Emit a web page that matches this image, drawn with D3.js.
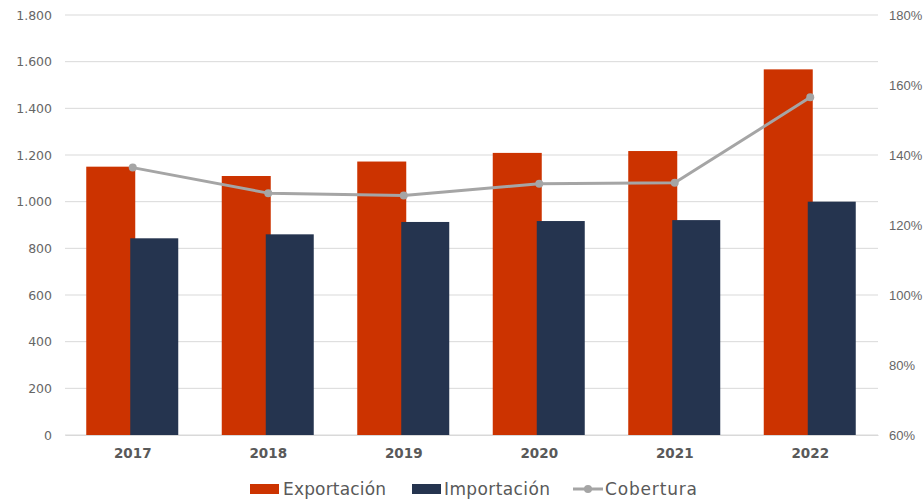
<!DOCTYPE html>
<html><head><meta charset="utf-8">
<script src="https://cdn.jsdelivr.net/npm/d3@7/dist/d3.min.js"></script>
<style>body{margin:0;background:#fff}svg{display:block}</style>
</head><body><svg id="c" width="923" height="501"></svg>
<script>
const years = ["2017","2018","2019","2020","2021","2022"];
const exportacion = [1150, 1110, 1172, 1209, 1217, 1567];
const importacion = [843, 860, 913, 917, 921, 1000];
const cobertura = [1.364, 1.291, 1.284, 1.318, 1.321, 1.565];
const leftTicks = [0,200,400,600,800,1000,1200,1400,1600,1800];
const rightTicks = [0.6,0.8,1.0,1.2,1.4,1.6,1.8];
const seriesNames = ["Exportación","Importación","Cobertura"];

const svg = d3.select("#c");
const L = 65, R = 878, T = 15, B = 435;
const x = d3.scaleBand().domain(years).range([L, R]).paddingInner(0).paddingOuter(0);
const y = d3.scaleLinear().domain([0,1800]).range([B, T]);
const y2 = d3.scaleLinear().domain([0.6,1.8]).range([B, T]);
const fmt = d3.formatLocale({decimal:",", thousands:".", grouping:[3], currency:["",""]}).format(",.0f");

// grid
svg.append("g").selectAll("line").data(leftTicks).join("line")
  .attr("x1", L).attr("x2", R).attr("y1", d=>y(d)).attr("y2", d=>y(d))
  .attr("stroke", "#d9d9d9").attr("stroke-width", 1);

// left axis
const la = svg.append("g").attr("transform", `translate(${L},0)`)
  .call(d3.axisLeft(y).tickValues(leftTicks).tickFormat(fmt).tickSize(0).tickPadding(13));
la.select(".domain").remove();
la.selectAll("text").attr("font-family","'DejaVu Sans', sans-serif").attr("font-size","12.5px").attr("fill","#666666");

// right axis
const ra = svg.append("g").attr("transform", `translate(${R},0)`)
  .call(d3.axisRight(y2).tickValues(rightTicks).tickFormat(d3.format(".0%")).tickSize(0).tickPadding(11));
ra.select(".domain").remove();
ra.selectAll("text").attr("font-family","'Liberation Sans', Arial, sans-serif").attr("font-size","13px").attr("fill","#666666");

// bars
const bw = 49, ov = 5;
const cx = d => x(d) + x.bandwidth()/2;
const gW = 2*bw - ov;
svg.append("g").selectAll("rect").data(years).join("rect")
  .attr("x", (d)=>cx(d) - gW/2).attr("width", bw)
  .attr("y", (d,i)=>y(exportacion[i])).attr("height", (d,i)=>B - y(exportacion[i]))
  .attr("fill", "#cc3300");
svg.append("g").selectAll("rect").data(years).join("rect")
  .attr("x", (d)=>cx(d) - gW/2 + bw - ov).attr("width", bw - 1)
  .attr("y", (d,i)=>y(importacion[i])).attr("height", (d,i)=>B - y(importacion[i]))
  .attr("fill", "#25344f");

// line
const line = d3.line().x((d,i)=>cx(years[i])).y(d=>y2(d));
svg.append("path").datum(cobertura).attr("d", line)
  .attr("fill","none").attr("stroke","#a5a5a5").attr("stroke-width",3).attr("stroke-linejoin","round");
svg.append("g").selectAll("circle").data(cobertura).join("circle")
  .attr("cx",(d,i)=>cx(years[i])).attr("cy", d=>y2(d)).attr("r",4).attr("fill","#a5a5a5");

// x labels
const xa = svg.append("g").attr("transform", `translate(0,${B})`)
  .call(d3.axisBottom(x).tickSize(0).tickPadding(13));
xa.select(".domain").attr("stroke","#d9d9d9");
xa.selectAll("text").attr("font-family","'DejaVu Sans', sans-serif").attr("font-size","13.5px")
  .attr("font-weight","bold").attr("fill","#595959");

// legend
const lg = svg.append("g").attr("font-family","'DejaVu Sans', sans-serif").attr("font-size","17px").attr("fill","#595959");
const ly = 489;
lg.append("rect").attr("x",250).attr("y",ly-5).attr("width",29).attr("height",10).attr("fill","#cc3300");
lg.append("text").attr("x",283).attr("y",ly).attr("dy","0.35em").text(seriesNames[0]).attr("textLength",103);
lg.append("rect").attr("x",412).attr("y",ly-5).attr("width",29).attr("height",10).attr("fill","#25344f");
lg.append("text").attr("x",444).attr("y",ly).attr("dy","0.35em").text(seriesNames[1]).attr("textLength",106);
lg.append("line").attr("x1",573).attr("x2",603).attr("y1",ly).attr("y2",ly).attr("stroke","#a5a5a5").attr("stroke-width",3);
lg.append("circle").attr("cx",588).attr("cy",ly).attr("r",4).attr("fill","#a5a5a5");
lg.append("text").attr("x",605).attr("y",ly).attr("dy","0.35em").text(seriesNames[2]).attr("textLength",92);
</script></body></html>
